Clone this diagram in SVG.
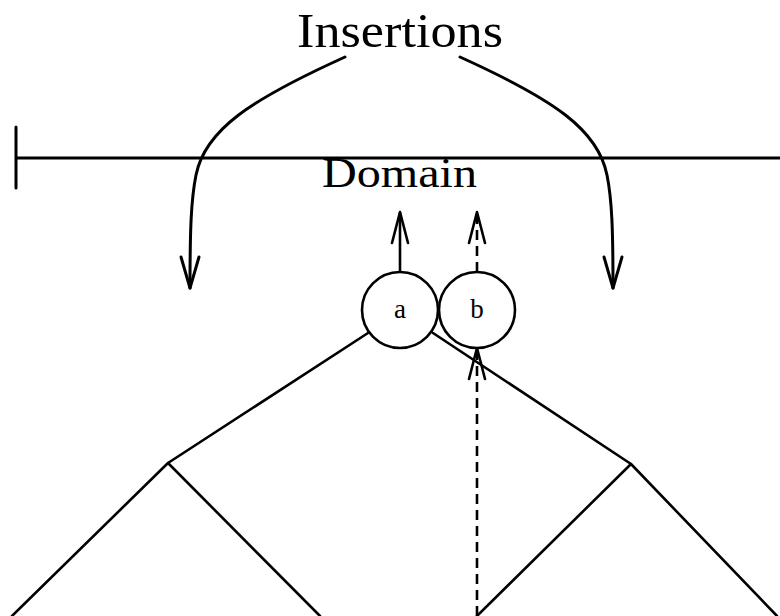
<svg xmlns="http://www.w3.org/2000/svg" width="780" height="616" viewBox="0 0 780 616">
<style>
.ln{fill:none;stroke:#000;stroke-width:2.6;stroke-linecap:round;stroke-linejoin:round}
.thick{stroke-width:3}
.dash{stroke-dasharray:10 6;stroke-linecap:butt}
.node{fill:#fff;stroke:#000;stroke-width:2.6}
.lbl{font-family:"Liberation Serif","DejaVu Serif",serif;fill:#000;text-anchor:middle}
</style>
<rect width="780" height="616" fill="#fff"/>
<g id="domain">
<path class="ln thick" d="M16,158 H780 M16,127 V188"/>
<text class="lbl" x="399.5" y="187" font-size="42" textLength="155" lengthAdjust="spacingAndGlyphs">Domain</text>
</g>
<g id="insertions">
<text class="lbl" x="400" y="47" font-size="48" textLength="206" lengthAdjust="spacingAndGlyphs">Insertions</text>
</g>
<g id="connectors">
<path class="ln thick" d="M345,57 C250,100 205,130 196,175 C191,200 190,230 190,288"/>
<path class="ln thick" d="M181,257 L190,288 L199,257"/>
<path class="ln thick" d="M460,57 C555,100 598,130 607,175 C612,200 613,230 613,288"/>
<path class="ln thick" d="M604,257 L613,288 L622,257"/>
<path class="ln" d="M400,272 V213"/>
<path class="ln" d="M392,243 L400,212 L408,243"/>
<path class="ln dash" d="M477,272 V214"/>
<path class="ln" d="M469,243 L477,212 L485,243"/>
<path class="ln" d="M368,333 L168,463 L12,616 M168,463 L320,616"/>
<path class="ln" d="M433,333 L631,464 L477,616 M631,464 L777,616"/>
<path class="ln dash" d="M477,616 V350"/>
<path class="ln" d="M469,379 L477,348 L485,379"/>
</g>
<g id="node-a">
<circle class="node" cx="400" cy="310" r="38"/>
<text class="lbl" x="400" y="318" font-size="27">a</text>
</g>
<g id="node-b">
<circle class="node" cx="477" cy="310" r="38"/>
<text class="lbl" x="477" y="318" font-size="27">b</text>
</g>
</svg>
